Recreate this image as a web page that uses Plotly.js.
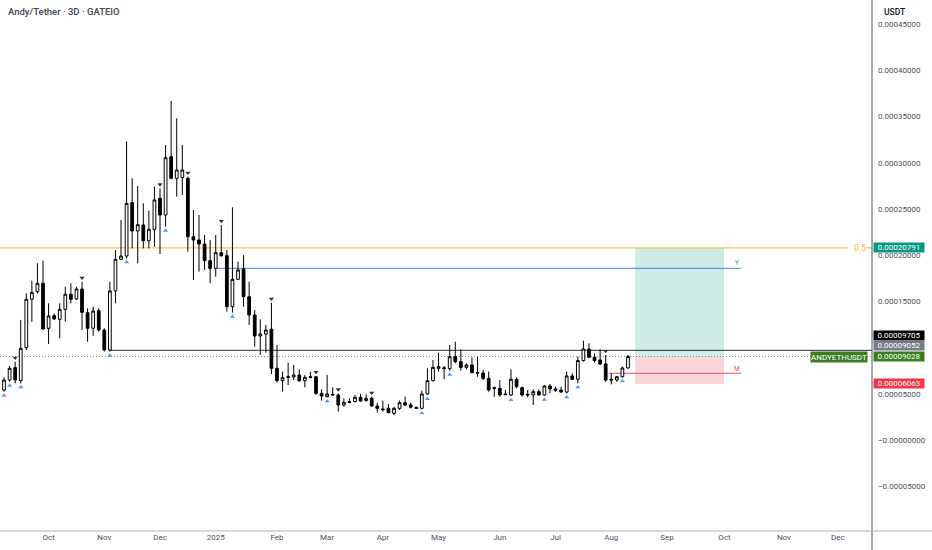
<!DOCTYPE html>
<html>
<head>
<meta charset="utf-8">
<script src="https://cdn.plot.ly/plotly-3.0.1.min.js"></script>
<style>
  html, body { margin: 0; padding: 0; background: #fff; }
  #chart { width: 932px; height: 550px; }
</style>
</head>
<body>
<div id="chart"></div>
<script>
// Prices in units of 1e-5 USDT (3-day candles, first candle 2024-09-09)
const UNIT = 1e-5;
const firstCandle = '2024-09-09';
const candleDays = 3;

const openP = [5.41,6.49,7.83,6.42,9.99,15.23,16.05,16.96,12.09,13.46,
  13.06,14.14,15.77,15.26,16.34,13.78,12.09,14.00,11.90,9.74,
  16.13,19.55,19.91,25.69,22.62,23.27,21.57,22.80,26.16,24.35,
  30.66,28.32,28.39,28.32,22.00,21.65,21.21,19.41,18.58,20.27,
  19.95,14.43,17.39,18.51,15.51,13.53,11.26,11.47,11.98,7.76,
  6.42,6.85,6.82,7.03,6.42,6.85,6.85,5.05,4.69,4.94,
  4.87,3.79,4.15,4.15,4.62,4.26,4.51,3.68,3.36,3.43,
  2.89,3.43,4.04,3.79,3.54,3.43,4.98,6.42,7.94,7.83,
  7.72,9.02,8.48,7.86,8.12,7.32,7.25,6.67,5.66,5.59,
  4.98,4.87,6.57,5.66,4.94,4.87,5.23,4.87,5.84,5.52,
  5.41,5.19,6.93,6.57,8.59,9.85,8.95,8.66,8.23,6.57,
  6.49,6.85,7.79];
const highP = [6.78,8.01,8.48,12.99,15.87,17.24,19.12,19.41,14.79,13.71,
  14.79,16.59,16.96,16.59,17.13,14.25,14.43,14.25,12.09,17.13,
  20.56,23.81,32.29,28.32,27.49,25.61,24.82,27.42,27.24,31.93,
  36.69,34.81,31.93,28.50,24.89,24.35,22.19,21.65,22.19,23.27,
  20.56,25.18,19.30,20.00,17.14,14.07,13.06,12.45,14.86,10.28,
  7.40,8.37,8.12,7.65,7.03,7.40,6.93,5.48,7.03,5.70,
  5.05,4.51,4.51,4.87,4.98,4.94,4.69,4.04,4.26,3.90,
  3.61,4.26,4.69,4.04,3.61,5.34,7.76,8.66,9.45,8.01,
  10.28,10.64,9.81,8.30,8.95,9.02,7.58,7.40,5.77,6.49,
  5.41,7.65,6.78,5.77,5.41,5.48,5.48,5.95,6.06,5.77,
  5.77,7.40,7.22,9.02,10.75,10.46,9.38,9.81,9.20,7.22,
  6.93,7.94,9.20];
const lowP = [5.23,6.31,6.13,6.13,9.74,12.80,15.87,11.90,10.39,12.99,
  11.00,12.80,14.79,15.15,11.90,10.64,11.26,11.72,9.56,9.56,
  14.79,19.48,19.66,20.74,19.12,20.74,20.74,20.92,20.13,23.09,
  28.21,26.33,26.52,20.38,17.32,18.22,18.40,16.96,17.68,19.84,
  13.89,13.78,17.32,14.43,12.45,10.10,9.20,9.45,7.14,6.21,
  5.23,5.95,6.49,6.31,5.70,6.67,4.87,4.26,4.62,4.80,
  3.07,3.61,3.97,4.08,4.15,4.15,3.61,2.96,3.07,2.89,
  2.71,3.25,3.68,3.43,3.36,3.32,4.87,6.31,7.40,6.57,
  7.50,8.30,7.50,7.65,7.22,6.85,6.49,5.23,4.69,4.69,
  4.87,4.76,5.59,4.69,4.62,3.79,4.80,4.80,5.05,5.23,
  5.12,5.05,6.49,6.13,8.48,8.84,8.37,8.12,6.31,6.02,
  6.31,6.78,7.72];
const closeP = [6.49,7.76,6.49,9.92,15.23,15.98,16.96,12.01,13.42,13.10,
  14.14,15.77,15.23,16.34,13.82,12.09,13.96,11.90,9.74,16.13,
  19.55,19.91,25.61,22.62,23.30,21.57,22.80,25.97,24.35,30.55,
  28.32,29.22,29.22,22.00,21.65,21.21,19.41,18.58,20.27,19.95,
  14.43,17.39,18.40,15.51,13.53,11.26,11.47,11.90,7.76,6.42,
  6.75,6.78,7.03,6.42,6.78,6.78,5.05,4.76,4.98,4.87,
  3.79,4.08,4.08,4.62,4.22,4.51,3.68,3.43,3.28,2.96,
  3.43,4.04,3.79,3.54,3.43,4.98,6.42,7.86,7.76,7.72,
  9.02,8.48,7.86,8.12,7.29,7.25,6.67,5.41,5.59,4.87,
  4.91,6.57,5.77,4.87,4.87,5.23,4.87,5.84,5.52,5.41,
  5.19,6.93,6.57,8.59,9.85,8.95,8.59,8.23,6.49,6.49,
  6.85,7.79,9.03];

// candle numbers (1-based) carrying signal arrows
const upSignals = [1,2,4,20,23,30,42,59,76,77,81,92,98,102,104,112];
const downSignals = [3,15,29,34,40,49,57,61,67,109];

// drawing levels (1e-5 USDT)
const fibHalf = 20.791;
const levelY = 18.58;
const levelM = 7.22;
const resistance = 9.705;
const entryPrice = 9.052;
const lastPrice = 9.028;
const stopPrice = 6.063;

const monthTickDates = ['2024-10-03','2024-11-02','2024-12-02','2025-01-01','2025-02-03','2025-03-02',
  '2025-04-01','2025-05-01','2025-06-03','2025-07-03','2025-08-02','2025-09-01','2025-10-02','2025-11-03','2025-12-02'];
const monthTickLabels = ['Oct','Nov','Dec','2025','Feb','Mar','Apr','May','Jun','Jul','Aug','Sep','Oct','Nov','Dec'];

// 0.00010000 is hidden behind the price tags in the reference
const priceTicks = [-5,0,5,15,20,25,30,35,40,45];
const priceTickLabels = ['\u22120.00005000','\u22120.00000000','0.00005000','0.00015000','0.00020000',
  '0.00025000','0.00030000','0.00035000','0.00040000','0.00045000'];

// ---- build ----
const t0 = Date.UTC(2024, 8, 9);
const dates = openP.map((_, i) => new Date(t0 + i * candleDays * 86400000).toISOString().slice(0, 10));
const s = a => a.map(v => v * UNIT);

const FONT = 'Roboto, "Noto Sans", sans-serif';

const candles = {
  type: 'candlestick',
  x: dates,
  open: s(openP), high: s(highP), low: s(lowP), close: s(closeP),
  increasing: { line: { color: '#000000', width: 1 }, fillcolor: '#ffffff' },
  decreasing: { line: { color: '#000000', width: 1 }, fillcolor: '#000000' },
  whiskerwidth: 0,
  hoverinfo: 'skip',
  showlegend: false
};

const ups = {
  type: 'scatter', mode: 'markers',
  x: upSignals.map(n => dates[n - 1]),
  y: upSignals.map(n => (lowP[n - 1] - 0.42) * UNIT),
  marker: { symbol: 'triangle-up', size: 4.5, color: '#5d9cec' },
  hoverinfo: 'skip', showlegend: false, cliponaxis: false
};
const downs = {
  type: 'scatter', mode: 'markers',
  x: downSignals.map(n => dates[n - 1]),
  y: downSignals.map(n => (highP[n - 1] + 0.42) * UNIT),
  marker: { symbol: 'triangle-down', size: 4.5, color: '#2a2e39' },
  hoverinfo: 'skip', showlegend: false, cliponaxis: false
};

const posStart = '2025-08-14 20:00';
const posEnd = '2025-10-01 17:00';
const labelEnd = '2025-10-11';

const shapes = [
  { type: 'rect', xref: 'x', yref: 'y', x0: posStart, x1: posEnd, y0: entryPrice * UNIT, y1: fibHalf * UNIT,
    fillcolor: 'rgba(8,153,129,0.2)', line: { width: 0 }, layer: 'below' },
  { type: 'rect', xref: 'x', yref: 'y', x0: posStart, x1: posEnd, y0: stopPrice * UNIT, y1: entryPrice * UNIT,
    fillcolor: 'rgba(242,54,69,0.2)', line: { width: 0 }, layer: 'below' },
  { type: 'line', xref: 'paper', yref: 'y', x0: 0, x1: 1, y0: lastPrice * UNIT, y1: lastPrice * UNIT,
    line: { color: '#8a8d96', width: 1, dash: '1px,2px' }, layer: 'below' },
  { type: 'line', xref: 'x', yref: 'y', x0: '2024-09-06', x1: '2025-12-07 12:00', y0: fibHalf * UNIT, y1: fibHalf * UNIT,
    line: { color: '#f7b13c', width: 1 }, layer: 'below' },
  { type: 'line', xref: 'x', yref: 'y', x0: '2025-12-17', x1: '2025-12-21', y0: fibHalf * UNIT, y1: fibHalf * UNIT,
    line: { color: '#f7b13c', width: 1 }, layer: 'below' },
  { type: 'line', xref: 'x', yref: 'y', x0: '2025-01-01 16:00', x1: labelEnd, y0: levelY * UNIT, y1: levelY * UNIT,
    line: { color: '#4f7fdc', width: 1 }, layer: 'below' },
  { type: 'line', xref: 'x', yref: 'y', x0: dates[19], x1: '2025-12-22', y0: resistance * UNIT, y1: resistance * UNIT,
    line: { color: '#2a2e39', width: 1 }, layer: 'below' },
  { type: 'line', xref: 'x', yref: 'y', x0: '2025-07-31 20:00', x1: labelEnd, y0: levelM * UNIT, y1: levelM * UNIT,
    line: { color: '#ee5064', width: 1 }, layer: 'below' },
  // pane borders
  { type: 'line', xref: 'paper', yref: 'paper', x0: 1, x1: 1, y0: -0.04, y1: 1,
    line: { color: '#50535e', width: 1 } },
  { type: 'line', xref: 'paper', yref: 'paper', x0: 0, x1: 1.07, y0: 0, y1: 0,
    line: { color: '#b2b5be', width: 1 } }
];

function priceTag(text, price, color, shift) {
  return { xref: 'paper', yref: 'y', x: 1, y: price * UNIT, xanchor: 'left', yanchor: 'middle',
    xshift: 1, yshift: shift || 0, text: text, showarrow: false, bgcolor: color,
    width: 50, height: 9, borderpad: 0, align: 'center',
    font: { family: FONT, size: 8, color: '#ffffff' } };
}

const annotations = [
  { xref: 'paper', yref: 'paper', x: 0.007, y: 1, yshift: -11, xanchor: 'left', yanchor: 'middle',
    text: 'Andy/Tether · 3D · GATEIO', showarrow: false,
    font: { family: FONT, size: 9.5, color: '#434651', weight: 500 } },
  { xref: 'paper', yref: 'paper', x: 1, xshift: 10, y: 1, yshift: -12, xanchor: 'left', yanchor: 'middle',
    text: 'USDT', showarrow: false, font: { family: FONT, size: 8.5, color: '#131722', weight: 500 } },
  { xref: 'paper', yref: 'y', x: 0.9865, y: fibHalf * UNIT, xanchor: 'center', yanchor: 'middle',
    text: '0.5', showarrow: false, font: { family: FONT, size: 8.5, color: '#f7b13c' } },
  { xref: 'x', yref: 'y', x: '2025-10-08 16:00', y: levelY * UNIT, yshift: 5, xanchor: 'center', yanchor: 'middle',
    text: 'Y', showarrow: false, font: { family: FONT, size: 6.5, color: '#4f7fdc' } },
  { xref: 'x', yref: 'y', x: '2025-10-08 16:00', y: levelM * UNIT, yshift: 4, xanchor: 'center', yanchor: 'middle',
    text: 'M', showarrow: false, font: { family: FONT, size: 6.5, color: '#ee5064' } },
  priceTag('0.00020791', fibHalf, '#089981', 0),
  priceTag('0.00009705', resistance, '#000000', 14.5),
  priceTag('0.00009052', entryPrice, '#787b86', 10.5),
  priceTag('0.00009028', lastPrice, '#3b7d1f', 0),
  priceTag('0.00006063', stopPrice, '#f23645', 0),
  { xref: 'paper', yref: 'y', x: 1, xshift: -4, y: lastPrice * UNIT, xanchor: 'right', yanchor: 'middle',
    text: 'ANDYETHUSDT', showarrow: false, bgcolor: '#3b7d1f', width: 56, height: 10, borderpad: 0,
    font: { family: FONT, size: 8, color: '#ffffff' } }
];

const layout = {
  width: 932, height: 550,
  margin: { l: 0, r: 60, t: 0, b: 19, pad: 0 },
  paper_bgcolor: '#ffffff', plot_bgcolor: '#ffffff',
  showlegend: false,
  boxgap: 0.3,
  xaxis: {
    type: 'date',
    range: ['2024-09-06 20:00', '2025-12-20 10:00'],
    rangeslider: { visible: false },
    showgrid: false, zeroline: false, showline: false, ticks: '',
    tickmode: 'array', tickvals: monthTickDates, ticktext: monthTickLabels,
    tickfont: { family: FONT, size: 8, color: '#50535e' },
    fixedrange: true
  },
  yaxis: {
    side: 'right',
    range: [-9.85 * UNIT, 47.62 * UNIT],
    showgrid: false, zeroline: false, showline: false, ticks: '',
    tickmode: 'array', tickvals: s(priceTicks), ticktext: priceTickLabels,
    tickfont: { family: FONT, size: 8, color: '#50535e' },
    ticklabelstandoff: 5,
    automargin: false,
    fixedrange: true
  },
  shapes: shapes,
  annotations: annotations
};

Plotly.newPlot('chart', [candles, ups, downs], layout, { displayModeBar: false, staticPlot: true });
</script>
</body>
</html>
